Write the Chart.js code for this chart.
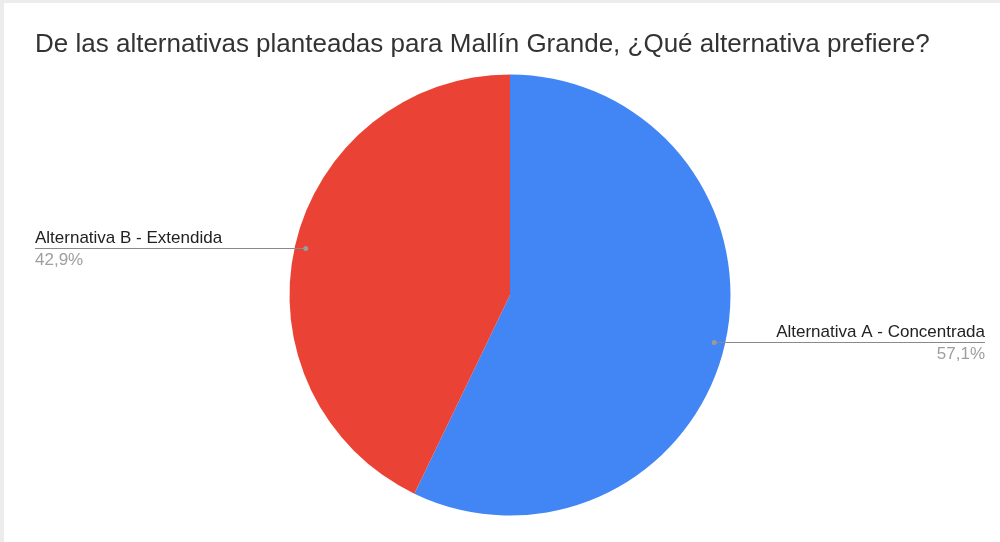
<!DOCTYPE html>
<html>
<head>
<meta charset="utf-8">
<script src="https://cdn.jsdelivr.net/npm/chart.js@4.4.1/dist/chart.umd.min.js"></script>
<style>
  html, body { margin: 0; padding: 0; background: #ececec; width: 1000px; height: 542px; overflow: hidden; }
  #wrap { position: absolute; left: 4px; top: 3px; width: 996px; height: 539px; background: #ffffff; }
  canvas { display: block; }
</style>
</head>
<body>
<div id="wrap"><canvas id="c" width="996" height="539"></canvas></div>
<script>
const chartTitle = "De las alternativas planteadas para Mallín Grande, ¿Qué alternativa prefiere?";
const categories = ["Alternativa A - Concentrada", "Alternativa B - Extendida"];
const responses = [4, 3];
const sliceColors = ["#4285f4", "#ea4335"];

const FONT = "'Liberation Sans', Arial, sans-serif";

const sideLabels = {
  id: 'sideLabels',
  afterDraw(chart) {
    const ctx = chart.ctx;
    const meta = chart.getDatasetMeta(0);
    const data = chart.data.datasets[0].data;
    const total = data.reduce((a, b) => a + b, 0);
    const leftX = 31, rightX = 981;
    meta.data.forEach((arc, i) => {
      const p = arc.getProps(['x', 'y', 'startAngle', 'endAngle', 'outerRadius'], true);
      const mid = (p.startAngle + p.endAngle) / 2;
      const r = p.outerRadius * 0.95;
      const dx = p.x + Math.cos(mid) * r;
      const dy = Math.round(p.y + Math.sin(mid) * r) + 0.5;
      const onRight = Math.cos(mid) >= 0;
      const endX = onRight ? rightX : leftX;
      ctx.save();
      ctx.strokeStyle = '#8a8a8a';
      ctx.lineWidth = 1;
      ctx.beginPath();
      ctx.moveTo(dx, dy);
      ctx.lineTo(endX, dy);
      ctx.stroke();
      ctx.fillStyle = '#9a9a9a';
      ctx.beginPath();
      ctx.arc(dx, dy, 2.5, 0, Math.PI * 2);
      ctx.fill();
      ctx.textAlign = onRight ? 'right' : 'left';
      ctx.textBaseline = 'alphabetic';
      ctx.font = '17px ' + FONT;
      ctx.fillStyle = '#222222';
      ctx.fillText(chart.data.labels[i], endX, dy - 6);
      const pct = (data[i] / total * 100).toFixed(1).replace('.', ',') + '%';
      ctx.fillStyle = '#9e9e9e';
      ctx.fillText(pct, endX, dy + 16);
      ctx.restore();
    });
  }
};

new Chart(document.getElementById('c'), {
  type: 'pie',
  data: {
    labels: categories,
    datasets: [{
      data: responses,
      backgroundColor: sliceColors,
      borderWidth: 0
    }]
  },
  options: {
    responsive: false,
    animation: false,
    layout: { padding: { left: 31, right: 15, top: 0, bottom: 26.5 } },
    plugins: {
      legend: { display: false },
      tooltip: { enabled: false },
      title: {
        display: true,
        text: chartTitle,
        align: 'start',
        color: '#333333',
        font: { family: FONT, size: 26, weight: 'normal', lineHeight: 1.2 },
        padding: { top: 26.3, bottom: 14 }
      }
    }
  },
  plugins: [sideLabels]
});
</script>
</body>
</html>
